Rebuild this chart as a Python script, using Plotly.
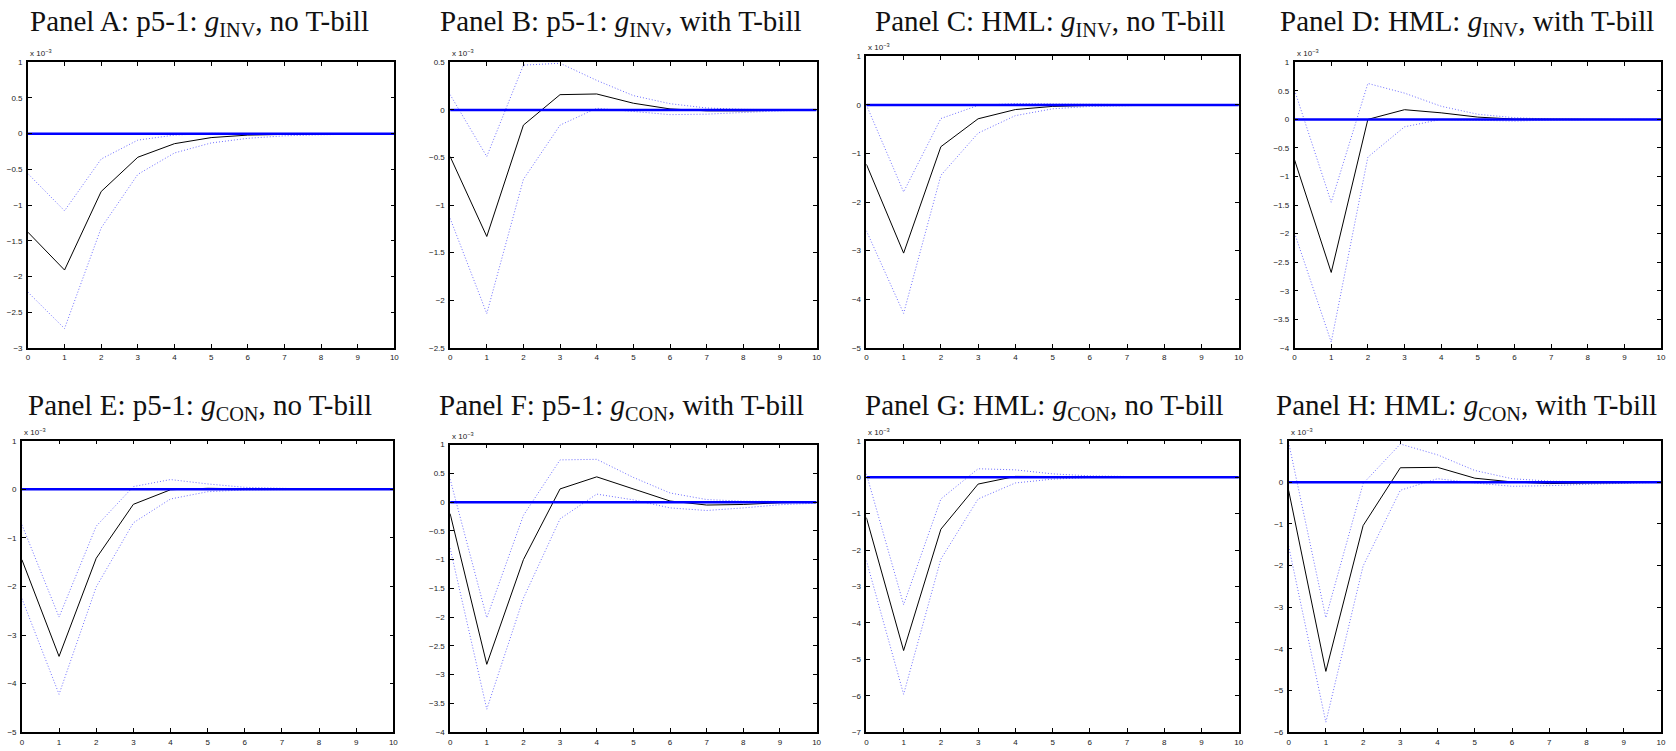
import plotly.graph_objects as go

# ---------------- data (values in units of 10^-3) ----------------
horizon = list(range(11))

titles = [
    "Panel A: p5-1: <i>g</i><sub>INV</sub>, no T-bill",
    "Panel B: p5-1: <i>g</i><sub>INV</sub>, with T-bill",
    "Panel C: HML: <i>g</i><sub>INV</sub>, no T-bill",
    "Panel D: HML: <i>g</i><sub>INV</sub>, with T-bill",
    "Panel E: p5-1: <i>g</i><sub>CON</sub>, no T-bill",
    "Panel F: p5-1: <i>g</i><sub>CON</sub>, with T-bill",
    "Panel G: HML: <i>g</i><sub>CON</sub>, no T-bill",
    "Panel H: HML: <i>g</i><sub>CON</sub>, with T-bill",
]

irf_A = [-1.38, -1.91, -0.81, -0.33, -0.14, -0.055, -0.02, -0.005, 0.0, 0.0, 0.0]
up_A = [-0.56, -1.08, -0.355, -0.09, -0.02, 0.005, 0.0, 0.0, 0.0, 0.0, 0.0]
lo_A = [-2.22, -2.73, -1.32, -0.57, -0.27, -0.13, -0.065, -0.03, -0.015, -0.005, 0.0]

irf_B = [-0.49, -1.33, -0.16, 0.16, 0.167, 0.07, 0.01, -0.01, -0.01, -0.003, 0.0]
up_B = [0.16, -0.49, 0.47, 0.49, 0.31, 0.15, 0.065, 0.02, 0.005, 0.0, 0.0]
lo_B = [-1.14, -2.14, -0.73, -0.16, 0.017, -0.014, -0.05, -0.045, -0.025, -0.01, 0.0]

irf_C = [-1.22, -3.05, -0.86, -0.285, -0.095, -0.03, -0.01, 0.0, 0.0, 0.0, 0.0]
up_C = [0.0, -1.79, -0.28, -0.01, 0.03, 0.02, 0.007, 0.0, 0.0, 0.0, 0.0]
lo_C = [-2.59, -4.29, -1.45, -0.58, -0.22, -0.08, -0.03, -0.01, 0.0, 0.0, 0.0]

irf_D = [-0.71, -2.68, 0.0, 0.17, 0.115, 0.04, 0.005, 0.0, 0.0, 0.0, 0.0]
up_D = [0.51, -1.45, 0.63, 0.46, 0.23, 0.09, 0.03, 0.005, 0.0, 0.0, 0.0]
lo_D = [-1.99, -3.9, -0.66, -0.13, 0.0, -0.01, -0.03, -0.01, 0.0, 0.0, 0.0]

irf_E = [-1.45, -3.44, -1.42, -0.31, -0.01, 0.02, 0.01, 0.0, 0.0, 0.0, 0.0]
up_E = [-0.73, -2.63, -0.76, 0.055, 0.2, 0.11, 0.04, 0.015, 0.0, 0.0, 0.0]
lo_E = [-2.25, -4.22, -2.01, -0.69, -0.2, -0.05, -0.013, 0.0, 0.0, 0.0, 0.0]

irf_F = [-0.2, -2.82, -1.0, 0.23, 0.44, 0.23, 0.02, -0.05, -0.04, -0.01, 0.0]
up_F = [0.4, -2.01, -0.23, 0.735, 0.745, 0.43, 0.16, 0.045, 0.017, 0.01, 0.01]
lo_F = [-0.8, -3.6, -1.67, -0.29, 0.14, 0.04, -0.1, -0.145, -0.1, -0.045, -0.017]

irf_G = [-1.11, -4.76, -1.43, -0.19, 0.02, 0.02, 0.01, 0.0, 0.0, 0.0, 0.0]
up_G = [0.09, -3.5, -0.6, 0.23, 0.2, 0.09, 0.035, 0.01, 0.0, 0.0, 0.0]
lo_G = [-2.29, -5.96, -2.25, -0.6, -0.16, -0.055, -0.01, 0.0, 0.0, 0.0, 0.0]

irf_H = [-0.19, -4.54, -1.04, 0.35, 0.36, 0.1, 0.01, -0.03, -0.015, -0.005, 0.0]
up_H = [0.96, -3.25, -0.03, 0.92, 0.66, 0.285, 0.087, 0.03, 0.01, 0.0, 0.0]
lo_H = [-1.53, -5.76, -2.01, -0.19, 0.087, -0.016, -0.095, -0.08, -0.047, -0.016, 0.0]

zero_line = [0.0] * 11

irfs = [irf_A, irf_B, irf_C, irf_D, irf_E, irf_F, irf_G, irf_H]
uppers = [up_A, up_B, up_C, up_D, up_E, up_F, up_G, up_H]
lowers = [lo_A, lo_B, lo_C, lo_D, lo_E, lo_F, lo_G, lo_H]

y_ranges = [(-3, 1), (-2.5, 0.5), (-5, 1), (-4, 1), (-5, 1), (-4, 1), (-7, 1), (-6, 1)]
y_dticks = [0.5, 0.5, 1, 0.5, 1, 0.5, 1, 1]

# ---------------- layout geometry (pixels) ----------------
W, H = 1676, 751
boxes = [  # x0, x1, ytop, ybottom
    (26, 394, 59, 348),
    (450, 818, 59, 348),
    (868, 1242, 53, 348),
    (1298, 1666, 59, 348),
    (20, 393, 442, 737),
    (450, 818, 446, 737),
    (868, 1242, 442, 737),
    (1292, 1666, 442, 737),
]
title_pos = [(198, 19), (622, 19), (1052, 19), (1471, 19),
             (199, 408), (622, 408), (1047, 408), (1471, 408)]

fig = go.Figure()
layout = dict(
    width=W, height=H,
    margin=dict(l=0, r=0, t=0, b=0),
    paper_bgcolor="white", plot_bgcolor="white",
    showlegend=False,
)
annotations = []
tickfont = dict(family="Liberation Sans, Arial", size=8, color="#222222")
band_color = "rgb(110,110,255)"

for i in range(8):
    n = i + 1
    xa = "x" if n == 1 else f"x{n}"
    ya = "y" if n == 1 else f"y{n}"
    x0, x1, yt, yb = boxes[i]
    fig.add_trace(go.Scatter(x=horizon, y=uppers[i], mode="lines", xaxis=xa, yaxis=ya,
                             line=dict(color=band_color, width=1, dash="1px,2px")))
    fig.add_trace(go.Scatter(x=horizon, y=lowers[i], mode="lines", xaxis=xa, yaxis=ya,
                             line=dict(color=band_color, width=1, dash="1px,2px")))
    fig.add_trace(go.Scatter(x=horizon, y=irfs[i], mode="lines", xaxis=xa, yaxis=ya,
                             line=dict(color="black", width=1)))
    fig.add_trace(go.Scatter(x=horizon, y=zero_line, mode="lines", xaxis=xa, yaxis=ya,
                             line=dict(color="#0000ff", width=2.5)))
    axcommon = dict(showgrid=False, zeroline=False, showline=True, linecolor="black",
                    linewidth=1.5, mirror="ticks", ticks="inside", ticklen=4,
                    tickwidth=1, tickcolor="black", tickfont=tickfont)
    layout["xaxis" if n == 1 else f"xaxis{n}"] = dict(
        domain=[x0 / W, x1 / W], anchor=ya, range=[0, 10], tick0=0, dtick=1,
        ticklabelstandoff=1, **axcommon)
    layout["yaxis" if n == 1 else f"yaxis{n}"] = dict(
        domain=[1 - yb / H, 1 - yt / H], anchor=xa, range=list(y_ranges[i]),
        tick0=0, dtick=y_dticks[i], ticklabelstandoff=2, **axcommon)
    tx, ty = title_pos[i]
    annotations.append(dict(text=titles[i], x=tx / W, y=1 - ty / H, xref="paper", yref="paper",
                            xanchor="center", yanchor="middle", showarrow=False,
                            font=dict(family="Liberation Serif, Times New Roman, serif",
                                      size=29, color="#111111")))
    annotations.append(dict(text="x 10<sup>−3</sup>", x=x0 / W, y=1 - (yt - 2) / H,
                            xref="paper", yref="paper", xanchor="left", yanchor="bottom",
                            showarrow=False, font=dict(family="Liberation Sans, Arial", size=8,
                                                       color="#222222")))

layout["annotations"] = annotations
fig.update_layout(**layout)
fig.write_html("out.html")
